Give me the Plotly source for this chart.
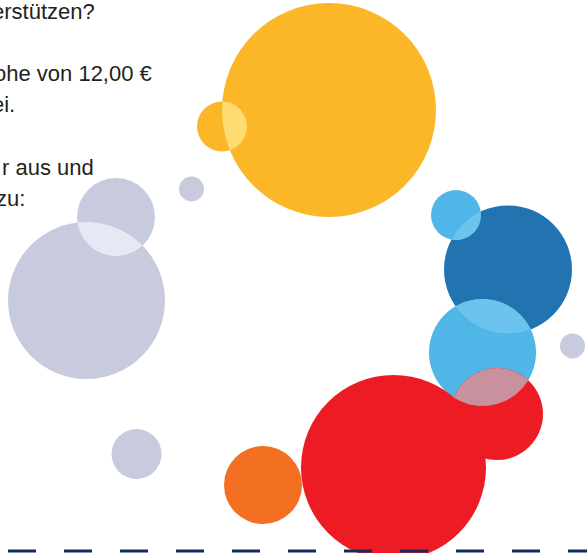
import math
import plotly.graph_objects as go

# ---- data (bubble centres and radii in chart units) ----
gray_x = [86.5, 116, 191.5, 136.5, 572.5]
gray_y = [300.5, 217, 189, 454, 346]
gray_r = [78.5, 39, 12.5, 25, 12.5]

yellow_x = [329, 222]
yellow_y = [110, 126.5]
yellow_r = [107, 25]

darkblue_x = [508]
darkblue_y = [269.5]
darkblue_r = [64]

lightblue_x = [456, 482.5]
lightblue_y = [215, 352.5]
lightblue_r = [25, 53.5]

red_x = [393.5, 497]
red_y = [467.5, 414]
red_r = [92.5, 46]

orange_x = [263]
orange_y = [485]
orange_r = [39]

text_lines = ["erstützen?", "ohe von 12,00 €", "ei.", "r aus und", "zu:"]
text_right = [95.5, 153, 16, 94.5, 26]
text_base = [18.5, 81, 111.5, 174.5, 205.5]

# ---- styles ----
C_GRAY = "#c7cbdd"
C_GRAY_L = "#e6e9f3"
C_YEL = "#fbb727"
C_YEL_L = "#ffdb70"
C_DBLUE = "#2274b0"
C_LBLUE = "#4fb6e7"
C_LBLUE_L = "#6cc4ee"
C_RED = "#ed1c24"
C_PINK = "#c9919e"
C_ORANGE = "#f37022"
C_DASH = "#0e2d5d"
FS = 22

W, H = 587, 556
BOT = 3

fig = go.Figure()


def bubbles(xs, ys, rs, color):
    fig.add_trace(go.Scatter(
        x=xs, y=ys, mode="markers",
        marker=dict(size=[2 * r for r in rs], sizemode="diameter", sizeref=1,
                    color=color, opacity=1, line=dict(width=0)),
        hoverinfo="skip", showlegend=False))


def lens(c1, c2, color, n=80):
    x1, y1, r1 = c1
    x2, y2, r2 = c2
    d = math.hypot(x2 - x1, y2 - y1)
    a = (r1 ** 2 - r2 ** 2 + d ** 2) / (2 * d)
    th = math.atan2(y2 - y1, x2 - x1)
    a1 = math.acos(max(-1, min(1, a / r1)))
    a2 = math.acos(max(-1, min(1, (d - a) / r2)))
    xs, ys = [], []
    for i in range(n + 1):
        t = th - a1 + 2 * a1 * i / n
        xs.append(x1 + r1 * math.cos(t)); ys.append(y1 + r1 * math.sin(t))
    for i in range(n + 1):
        t = th + math.pi - a2 + 2 * a2 * i / n
        xs.append(x2 + r2 * math.cos(t)); ys.append(y2 + r2 * math.sin(t))
    fig.add_trace(go.Scatter(x=xs, y=ys, mode="lines", fill="toself",
                             fillcolor=color, line=dict(width=0),
                             hoverinfo="skip", showlegend=False))


bubbles(gray_x, gray_y, gray_r, C_GRAY)
bubbles(yellow_x, yellow_y, yellow_r, C_YEL)
bubbles(darkblue_x, darkblue_y, darkblue_r, C_DBLUE)
bubbles(lightblue_x, lightblue_y, lightblue_r, C_LBLUE)
bubbles(red_x, red_y, red_r, C_RED)
bubbles(orange_x, orange_y, orange_r, C_ORANGE)

g = list(zip(gray_x, gray_y, gray_r))
yl = list(zip(yellow_x, yellow_y, yellow_r))
db = list(zip(darkblue_x, darkblue_y, darkblue_r))
lb = list(zip(lightblue_x, lightblue_y, lightblue_r))
rd = list(zip(red_x, red_y, red_r))

lens(g[0], g[1], C_GRAY_L)
lens(yl[0], yl[1], C_YEL_L)
lens(db[0], lb[0], C_LBLUE_L)
lens(db[0], lb[1], C_LBLUE_L)
lens(lb[1], rd[1], C_PINK)

# dashed baseline
fig.add_trace(go.Scatter(x=[8, W + 30], y=[551, 551], mode="lines",
                         line=dict(color=C_DASH, width=3, dash="28px,28px"),
                         hoverinfo="skip", showlegend=False))

for t, xr, yb in zip(text_lines, text_right, text_base):
    fig.add_annotation(x=xr, y=yb - 0.33 * FS, text=t, xref="x", yref="y",
                       xanchor="right", yanchor="middle", showarrow=False,
                       borderpad=0,
                       font=dict(family="Liberation Sans, Arial", size=FS, color="#231f20"))

fig.update_layout(
    width=W, height=H,
    margin=dict(l=0, r=0, t=0, b=BOT),
    paper_bgcolor="white", plot_bgcolor="white",
    xaxis=dict(range=[0, W], visible=False, fixedrange=True),
    yaxis=dict(range=[H - BOT, 0], visible=False, fixedrange=True),
    showlegend=False,
)

fig.write_html("out.html", config={"displayModeBar": False},
               post_script="document.body.style.margin='0px';document.body.style.overflow='hidden';")
